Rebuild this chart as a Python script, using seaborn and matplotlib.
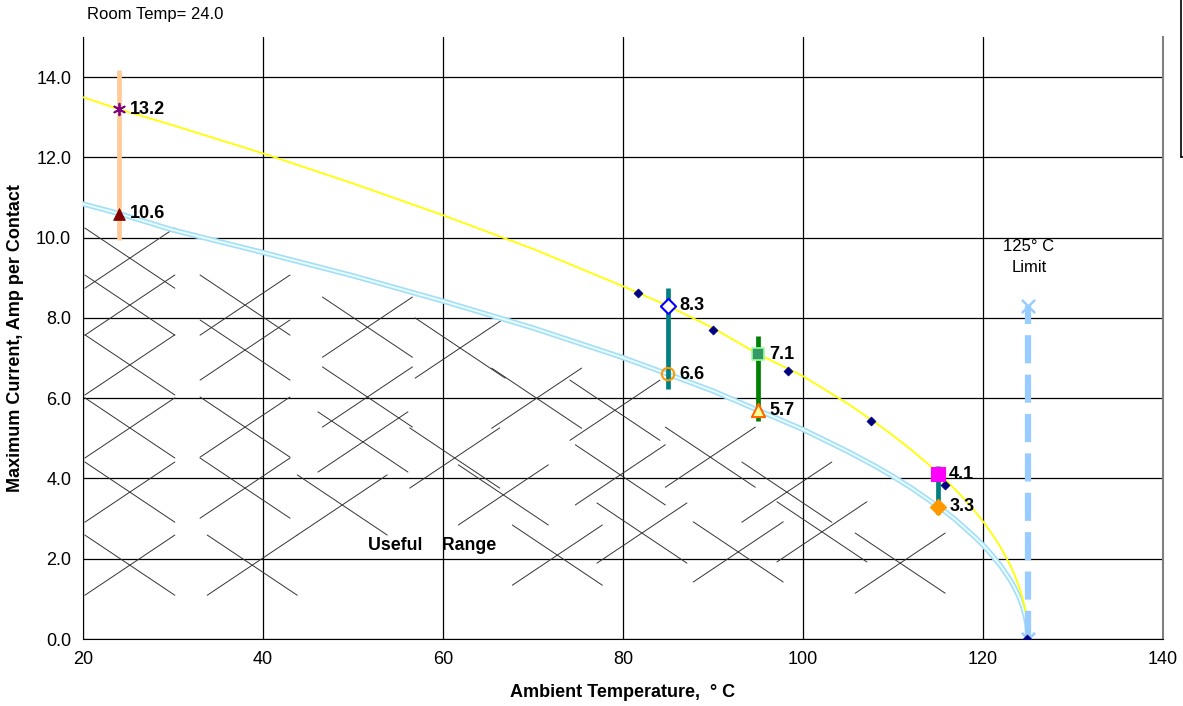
import pandas as pd
import matplotlib.pyplot as plt
import seaborn as sns

# curves (ambient temp vs max current)
temps = [20, 24, 30, 40, 50, 60, 70, 80, 85, 90, 95, 100, 105, 108, 110, 112, 114, 115, 116,
         117, 118, 119, 120, 121, 122, 123, 123.5, 124, 124.4, 124.7, 124.9, 125]
upper_amps = [13.5, 13.2, 12.8, 12.1, 11.35, 10.56, 9.72, 8.79, 8.3, 7.75, 7.1, 6.55, 5.86,
              5.4, 5.07, 4.72, 4.34, 4.1, 3.93, 3.7, 3.47, 3.21, 2.93, 2.62, 2.27, 1.85,
              1.6, 1.31, 1.01, 0.72, 0.41, 0.0]
lower_amps = [10.84, 10.6, 10.19, 9.63, 9.05, 8.42, 7.75, 7.01, 6.6, 6.18, 5.7, 5.22, 4.67,
              4.31, 4.05, 3.77, 3.46, 3.3, 3.14, 2.96, 2.76, 2.56, 2.34, 2.09, 1.81, 1.48,
              1.28, 1.05, 0.81, 0.57, 0.33, 0.0]

# navy points on the upper curve
dot_temps = [81.7, 90.0, 98.3, 107.6, 115.8, 124.9]
dot_amps = [8.62, 7.70, 6.68, 5.43, 3.84, 0.0]

# vertical range bars
bar_temps = [24, 85, 95, 115]
bar_low = [9.95, 6.22, 5.43, 3.11]
bar_high = [14.17, 8.75, 7.55, 4.31]
bar_colors = ['#FFCC99', '#008080', '#008000', '#008080']

# labelled markers
pt_temps = [24, 24, 85, 85, 95, 95, 115, 115]
pt_amps = [13.2, 10.6, 8.3, 6.6, 7.1, 5.7, 4.1, 3.3]

limit_temp = 125
limit_top = 8.3

# centres of the "useful range" cross hatching
hatch_t = [25.2, 25.2, 25.2, 25.2, 25.2, 25.2, 38.0, 38.0, 38.0, 38.0, 38.8,
           51.6, 51.6, 51.1, 48.8, 61.9, 61.3, 70.4, 79.1, 89.7, 66.7, 79.7,
           98.2, 72.7, 82.1, 92.8, 102.1, 110.8]
hatch_a = [9.49, 8.32, 6.83, 5.26, 3.66, 1.84, 8.32, 7.20, 5.28, 3.76, 1.84,
           7.77, 6.03, 4.91, 3.34, 7.25, 4.51, 6.00, 5.70, 4.53, 3.59, 4.09,
           3.66, 2.09, 2.64, 2.17, 2.67, 1.89]

sns.set_style('white')
plt.rcParams['font.family'] = ['Liberation Sans', 'DejaVu Sans']
plt.rcParams['text.color'] = 'black'
plt.rcParams['axes.labelcolor'] = 'black'
plt.rcParams['xtick.color'] = 'black'
plt.rcParams['ytick.color'] = 'black'

fig = plt.figure(figsize=(11.83, 7.06), dpi=100)
ax = fig.add_axes([0.0702, 0.0949, 0.9129, 0.8527])

curves = pd.DataFrame({'temp': temps, 'upper': upper_amps, 'lower': lower_amps})

# hatch crosses
hw, hh = 5.0, 0.75
for t, a in zip(hatch_t, hatch_a):
    ax.plot([t - hw, t + hw], [a + hh, a - hh], color='#333333', lw=0.7, zorder=2)
    ax.plot([t - hw, t + hw], [a - hh, a + hh], color='#333333', lw=0.7, zorder=2)

# lower curve drawn as a light double line
sns.lineplot(data=curves, x='temp', y='lower', ax=ax, color='#A6DDF7', lw=3.8, zorder=3)
sns.lineplot(data=curves, x='temp', y='lower', ax=ax, color='#E6FFFF', lw=1.4, zorder=3)
sns.lineplot(data=curves, x='temp', y='upper', ax=ax, color='#FFFF00', lw=1.3, zorder=3)

for t, lo, hi, c in zip(bar_temps, bar_low, bar_high, bar_colors):
    ax.plot([t, t], [lo, hi], color=c, lw=3.4, solid_capstyle='butt', zorder=4)

ax.plot([limit_temp, limit_temp], [0, limit_top], color='#99CCFF', lw=4.5,
        dashes=(4.5, 1.8), zorder=4)

sns.scatterplot(x=dot_temps, y=dot_amps, ax=ax, marker='D', s=22, color='#000080',
                edgecolor='#000080', zorder=6)

styles = [
    dict(marker=(6, 2, 0), s=70, color='#800080', edgecolor='#800080', linewidth=1.3),
    dict(marker='^', s=70, color='#800000', edgecolor='#800000'),
    dict(marker='D', s=60, color='white', edgecolor='#0000FF', linewidth=1.5),
    dict(marker='o', s=80, color='none', edgecolor='#FF9900', linewidth=1.5),
    dict(marker='s', s=70, color='#339966', edgecolor='#99FF99', linewidth=1.2),
    dict(marker='^', s=90, color='#FFFF99', edgecolor='#FF6600', linewidth=1.5),
    dict(marker='s', s=90, color='#FF00FF', edgecolor='#FF00FF'),
    dict(marker='D', s=70, color='#FF9900', edgecolor='#FF9900'),
]
for t, a, st in zip(pt_temps, pt_amps, styles):
    sns.scatterplot(x=[t], y=[a], ax=ax, zorder=7, **st)
    ax.annotate(f'{a:.1f}', (t, a), xytext=(8, 0), textcoords='offset points',
                va='center', ha='left', fontsize=13, fontweight='bold', zorder=8)

sns.scatterplot(x=[limit_temp, limit_temp], y=[limit_top, 0], ax=ax, marker='x', s=90,
                color='#99CCFF', linewidth=1.8, zorder=5)

ax.text(125.1, 9.79, '125° C', ha='center', va='center', fontsize=12)
ax.text(125.1, 9.25, 'Limit', ha='center', va='center', fontsize=12)
ax.text(51.7, 2.34, 'Useful    Range', ha='left', va='center', fontsize=12.8, fontweight='bold')

fig.text(0.0735, 0.980, 'Room Temp= 24.0', fontsize=12, va='center')
fig.add_artist(plt.Line2D([1181 / 1183, 1181 / 1183], [1.0, 1 - 157 / 706], color='black', lw=1.2))
fig.add_artist(plt.Line2D([1181 / 1183, 1.0], [1 - 157 / 706, 1 - 157 / 706], color='black', lw=1.2))

ax.set_xlim(20, 140)
ax.set_ylim(0, 15)
ax.set_xticks(range(20, 141, 20))
ax.set_yticks(range(0, 15, 2))
ax.set_yticklabels([f'{v:.1f}' for v in range(0, 15, 2)])
ax.grid(True, color='black', lw=0.9)
ax.set_axisbelow(True)
ax.tick_params(axis='both', direction='out', length=5, width=1, labelsize=13, color='black')
ax.spines['top'].set_visible(False)
ax.spines['left'].set_color('black')
ax.spines['bottom'].set_color('black')
ax.spines['right'].set_color('#808080')
ax.spines['right'].set_linewidth(1.5)
ax.set_xlabel('Ambient Temperature,  ° C', fontsize=13, fontweight='bold', labelpad=12)
ax.set_ylabel('Maximum Current, Amp per Contact', fontsize=13, fontweight='bold', labelpad=9)

fig.savefig('out.png', dpi=100)
